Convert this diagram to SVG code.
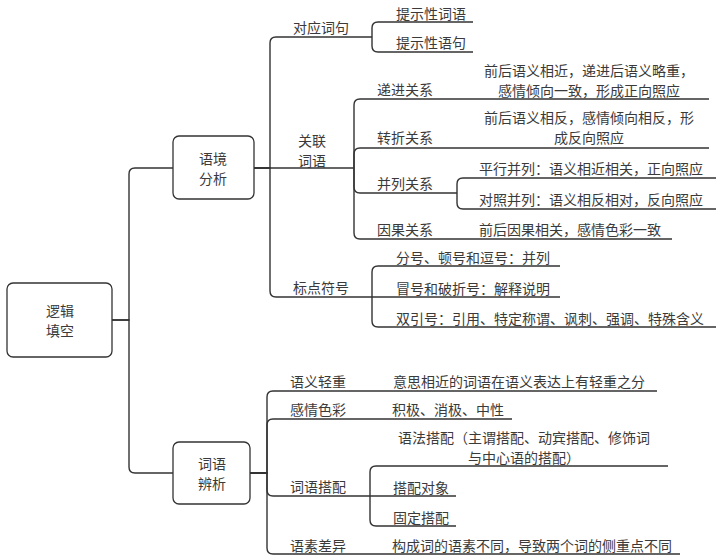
<svg xmlns="http://www.w3.org/2000/svg" width="722" height="558" viewBox="0 0 722 558">
<style>
.c{fill:none;stroke:#333;stroke-width:1.4}
.b{fill:#fff;stroke:#333;stroke-width:1.3}
text{font-family:"Noto Sans CJK SC","Noto Sans",sans-serif;font-size:14px;fill:#3a3a3a;dominant-baseline:central}
.m{text-anchor:middle}
</style>
<rect width="722" height="558" fill="#fff"/>
<g id="connectors">
<path class="c" d="M112,320 H129 V174 Q129,168 135,168 H173"/>
<path class="c" d="M112,320 H129 V467 Q129,473 135,473 H173"/>
<path class="c" d="M254,168 H270 V43 Q270,37 276,37 H372"/>
<path class="c" d="M254,168 H354"/>
<path class="c" d="M254,168 H270 V291 Q270,297 276,297 H372"/>
<path class="c" d="M372,37 V28 Q372,22 378,22 H473"/>
<path class="c" d="M372,37 V46 Q372,52 378,52 H473"/>
<path class="c" d="M354,168 V105 Q354,99 360,99 H709"/>
<path class="c" d="M354,168 V154 Q354,148 360,148 H709"/>
<path class="c" d="M354,168 V187 Q354,193 360,193 H457"/>
<path class="c" d="M354,168 V233 Q354,239 360,239 H672"/>
<path class="c" d="M457,193 V184 Q457,178 463,178 H716"/>
<path class="c" d="M457,193 V203 Q457,209 463,209 H716"/>
<path class="c" d="M372,297 V272 Q372,266 378,266 H560"/>
<path class="c" d="M372,297 H560"/>
<path class="c" d="M372,297 V321 Q372,327 378,327 H716"/>
<path class="c" d="M250,473 H267 V397 Q267,391 273,391 H657"/>
<path class="c" d="M250,473 H267 V425 Q267,419 273,419 H512"/>
<path class="c" d="M250,473 H267 V490 Q267,496 273,496 H370"/>
<path class="c" d="M250,473 H267 V548 Q267,554 273,554 H680"/>
<path class="c" d="M370,496 V472 Q370,466 376,466 H668"/>
<path class="c" d="M370,496 H456"/>
<path class="c" d="M370,496 V520 Q370,526 376,526 H456"/>
</g>
<g id="root"><rect class="b" x="7" y="283" width="105" height="74" rx="6"/><text class="m" x="60" y="310">逻辑</text><text class="m" x="60" y="330">填空</text></g>
<g id="yujing"><rect class="b" x="173" y="136" width="81" height="63" rx="6"/><text class="m" x="213" y="158">语境</text><text class="m" x="213" y="178">分析</text></g>
<g id="ciyu"><rect class="b" x="173" y="442" width="77" height="62" rx="6"/><text class="m" x="212" y="463">词语</text><text class="m" x="212" y="483">辨析</text></g>
<g id="duiying"><text x="293" y="27">对应词句</text></g>
<g id="tishi1"><text x="396" y="13">提示性词语</text></g>
<g id="tishi2"><text x="396" y="42">提示性语句</text></g>
<g id="guanlian"><text class="m" x="312" y="140">关联</text><text class="m" x="312" y="160">词语</text></g>
<g id="dijin"><text x="377" y="89">递进关系</text><text class="m" x="589" y="70">前后语义相近，递进后语义略重，</text><text class="m" x="589" y="90">感情倾向一致，形成正向照应</text></g>
<g id="zhuanzhe"><text x="377" y="137">转折关系</text><text class="m" x="589" y="117">前后语义相反，感情倾向相反，形</text><text class="m" x="589" y="137">成反向照应</text></g>
<g id="binglie"><text x="377" y="183">并列关系</text></g>
<g id="pingxing"><text x="479" y="168">平行并列：语义相近相关，正向照应</text></g>
<g id="duizhao"><text x="479" y="199">对照并列：语义相反相对，反向照应</text></g>
<g id="yinguo"><text x="377" y="229">因果关系</text><text x="479" y="229">前后因果相关，感情色彩一致</text></g>
<g id="biaodian"><text x="293" y="287">标点符号</text></g>
<g id="fenhao"><text x="396" y="257">分号、顿号和逗号：并列</text></g>
<g id="maohao"><text x="396" y="288">冒号和破折号：解释说明</text></g>
<g id="yinhao"><text x="396" y="318">双引号：引用、特定称谓、讽刺、强调、特殊含义</text></g>
<g id="qingzhong"><text x="290" y="381">语义轻重</text><text x="393" y="381">意思相近的词语在语义表达上有轻重之分</text></g>
<g id="secai"><text x="290" y="409">感情色彩</text><text x="392" y="409">积极、消极、中性</text></g>
<g id="dapei"><text x="290" y="486">词语搭配</text></g>
<g id="yufa"><text class="m" x="524" y="437">语法搭配（主谓搭配、动宾搭配、修饰词</text><text class="m" x="524" y="457">与中心语的搭配）</text></g>
<g id="duixiang"><text x="393" y="487">搭配对象</text></g>
<g id="guding"><text x="393" y="517">固定搭配</text></g>
<g id="yusu"><text x="290" y="545">语素差异</text><text x="392" y="545">构成词的语素不同，导致两个词的侧重点不同</text></g>
</svg>
